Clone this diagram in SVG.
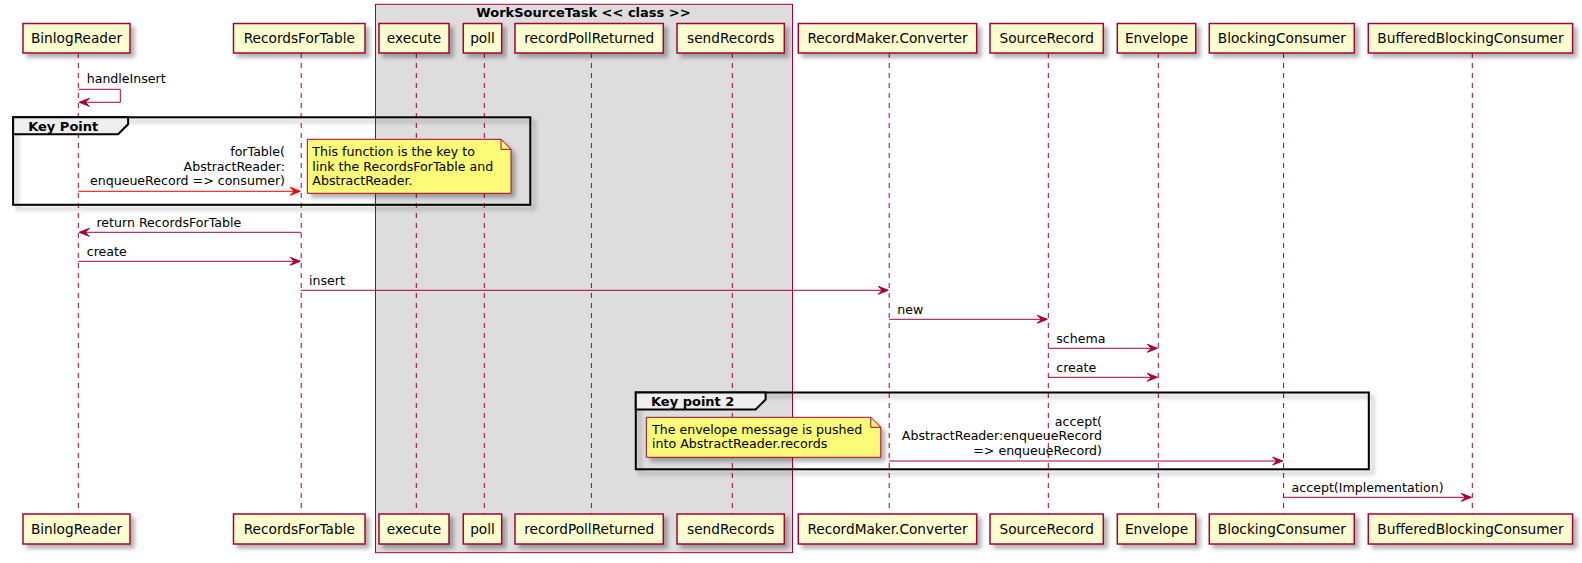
<svg xmlns="http://www.w3.org/2000/svg" width="1582" height="563" viewBox="0 0 1582 563">
<defs>
<filter id="sh" x="-5%" y="-10%" width="120%" height="140%">
<feDropShadow dx="4" dy="4" stdDeviation="2" flood-color="#000" flood-opacity="0.3"/>
</filter>
<marker id="ah" viewBox="-11 -5 12 10" refX="0" refY="0" markerWidth="12" markerHeight="10" markerUnits="userSpaceOnUse" orient="auto">
<path d="M-10,-4 L0,0 L-10,4 L-6,0 Z" fill="#A80036" stroke="#A80036" stroke-width="1"/>
</marker>
<marker id="ahr" viewBox="-11 -5 12 10" refX="0" refY="0" markerWidth="12" markerHeight="10" markerUnits="userSpaceOnUse" orient="auto">
<path d="M-10,-4 L0,0 L-10,4 L-6,0 Z" fill="#FF0000" stroke="#FF0000" stroke-width="1"/>
</marker>
</defs>
<style>
.p{fill:#FEFECE;stroke:#A80036;stroke-width:1.5;filter:url(#sh)}
.pt{font-family:"DejaVu Sans",sans-serif;font-size:13.7px;fill:#000;text-anchor:middle}
.ll{stroke:#A80036;stroke-width:1;stroke-dasharray:5,5;fill:none}
.m{stroke:#A80036;stroke-width:1;fill:none;marker-end:url(#ah)}
.mr{stroke:#FF0000;stroke-width:1;fill:none;marker-end:url(#ahr)}
.mt{font-family:"DejaVu Sans",sans-serif;font-size:12.6px;fill:#000}
.e{text-anchor:end}
.g{fill:none;stroke:#000;stroke-width:2;filter:url(#sh)}
.gt{fill:#EEEEEE;stroke:#000;stroke-width:2}
.gl{font-family:"DejaVu Sans",sans-serif;font-size:13px;font-weight:bold;fill:#000}
.n{fill:#FBFB77;stroke:#A80036;stroke-width:1;filter:url(#sh)}
.nf{fill:none;stroke:#A80036;stroke-width:1}
.box{fill:#DDDDDD;stroke:#A80036;stroke-width:1}
</style>
<rect width="1582" height="563" fill="#FFFFFF"/>
<g id="WorkSourceTask">
<rect class="box" x="375.5" y="4.3" width="417" height="548.4"/>
<text class="gl" x="583.5" y="16.5" text-anchor="middle">WorkSourceTask &lt;&lt; class &gt;&gt;</text>
</g>
<g id="BinlogReader">
<line class="ll" x1="78.3" y1="53" x2="78.3" y2="514"/>
<rect class="p" x="23" y="23.5" width="107" height="29.5"/>
<text class="pt" x="76.5" y="43.3">BinlogReader</text>
<rect class="p" x="23" y="514" width="107" height="30"/>
<text class="pt" x="76.5" y="534">BinlogReader</text>
</g>
<g id="RecordsForTable">
<line class="ll" x1="301.2" y1="53" x2="301.2" y2="514"/>
<rect class="p" x="233.5" y="23.5" width="131.5" height="29.5"/>
<text class="pt" x="299.3" y="43.3">RecordsForTable</text>
<rect class="p" x="233.5" y="514" width="131.5" height="30"/>
<text class="pt" x="299.3" y="534">RecordsForTable</text>
</g>
<g id="execute">
<line class="ll" x1="416.3" y1="53" x2="416.3" y2="514"/>
<rect class="p" x="379" y="23.5" width="70" height="29.5"/>
<text class="pt" x="414" y="43.3">execute</text>
<rect class="p" x="379" y="514" width="70" height="30"/>
<text class="pt" x="414" y="534">execute</text>
</g>
<g id="poll">
<line class="ll" x1="484.3" y1="53" x2="484.3" y2="514"/>
<rect class="p" x="463.3" y="23.5" width="38.4" height="29.5"/>
<text class="pt" x="482.5" y="43.3">poll</text>
<rect class="p" x="463.3" y="514" width="38.4" height="30"/>
<text class="pt" x="482.5" y="534">poll</text>
</g>
<g id="recordPollReturned">
<line class="ll" x1="591.4" y1="53" x2="591.4" y2="514"/>
<rect class="p" x="515" y="23.5" width="148.3" height="29.5"/>
<text class="pt" x="589.2" y="43.3">recordPollReturned</text>
<rect class="p" x="515" y="514" width="148.3" height="30"/>
<text class="pt" x="589.2" y="534">recordPollReturned</text>
</g>
<g id="sendRecords">
<line class="ll" x1="732.3" y1="53" x2="732.3" y2="514"/>
<rect class="p" x="677" y="23.5" width="107.3" height="29.5"/>
<text class="pt" x="730.7" y="43.3">sendRecords</text>
<rect class="p" x="677" y="514" width="107.3" height="30"/>
<text class="pt" x="730.7" y="534">sendRecords</text>
</g>
<g id="RecordMakerConverter">
<line class="ll" x1="889.2" y1="53" x2="889.2" y2="514"/>
<rect class="p" x="798.3" y="23.5" width="178.4" height="29.5"/>
<text class="pt" x="887.5" y="43.3">RecordMaker.Converter</text>
<rect class="p" x="798.3" y="514" width="178.4" height="30"/>
<text class="pt" x="887.5" y="534">RecordMaker.Converter</text>
</g>
<g id="SourceRecord">
<line class="ll" x1="1048.3" y1="53" x2="1048.3" y2="514"/>
<rect class="p" x="990" y="23.5" width="113.3" height="29.5"/>
<text class="pt" x="1046.7" y="43.3">SourceRecord</text>
<rect class="p" x="990" y="514" width="113.3" height="30"/>
<text class="pt" x="1046.7" y="534">SourceRecord</text>
</g>
<g id="Envelope">
<line class="ll" x1="1158.3" y1="53" x2="1158.3" y2="514"/>
<rect class="p" x="1117.3" y="23.5" width="78.4" height="29.5"/>
<text class="pt" x="1156.5" y="43.3">Envelope</text>
<rect class="p" x="1117.3" y="514" width="78.4" height="30"/>
<text class="pt" x="1156.5" y="534">Envelope</text>
</g>
<g id="BlockingConsumer">
<line class="ll" x1="1283.6" y1="53" x2="1283.6" y2="514"/>
<rect class="p" x="1209.3" y="23.5" width="145" height="29.5"/>
<text class="pt" x="1281.8" y="43.3">BlockingConsumer</text>
<rect class="p" x="1209.3" y="514" width="145" height="30"/>
<text class="pt" x="1281.8" y="534">BlockingConsumer</text>
</g>
<g id="BufferedBlockingConsumer">
<line class="ll" x1="1472.3" y1="53" x2="1472.3" y2="514"/>
<rect class="p" x="1368.3" y="23.5" width="204.3" height="29.5"/>
<text class="pt" x="1470.5" y="43.3">BufferedBlockingConsumer</text>
<rect class="p" x="1368.3" y="514" width="204.3" height="30"/>
<text class="pt" x="1470.5" y="534">BufferedBlockingConsumer</text>
</g>
<g id="group-key-point">
<rect class="g" x="13.1" y="117.3" width="517.2" height="87.5"/>
<path class="gt" d="M13.1,117.3 H128.1 V124.3 L118.1,134.3 H13.1 Z"/>
<text class="gl" x="28.2" y="130.5">Key Point</text>
</g>
<g id="group-key-point-2">
<rect class="g" x="635.8" y="392.5" width="733" height="76.8"/>
<path class="gt" d="M635.8,392.5 H765.6 V399.5 L755.6,409.5 H635.8 Z"/>
<text class="gl" x="651" y="405.7">Key point 2</text>
</g>
<g id="note-1">
<path class="n" d="M307.3,139.3 H501 L511,149.3 V193.3 H307.3 Z"/>
<path class="nf" d="M501,139.3 V149.3 H511"/>
<text class="mt" x="312.3" y="156.3">This function is the key to</text>
<text class="mt" x="312.3" y="170.8">link the RecordsForTable and</text>
<text class="mt" x="312.3" y="185.3">AbstractReader.</text>
</g>
<g id="note-2">
<path class="n" d="M646.3,417.3 H870.8 L880.8,427.3 V457.3 H646.3 Z"/>
<path class="nf" d="M870.8,417.3 V427.3 H880.8"/>
<text class="mt" x="652" y="433.8">The envelope message is pushed</text>
<text class="mt" x="652" y="448.3">into AbstractReader.records</text>
</g>
<g id="connectors">
<path class="m" d="M78.3,89.3 H120.3 V102.3 H79.3"/>
<text class="mt" x="86.7" y="83.3">handleInsert</text>
<line class="mr" x1="78.3" y1="191.3" x2="300.2" y2="191.3"/>
<text class="mt e" x="285" y="156.3">forTable(</text>
<text class="mt e" x="285" y="170.8">AbstractReader:</text>
<text class="mt e" x="285" y="185.3">enqueueRecord =&gt; consumer)</text>
<line class="m" x1="301.2" y1="232.3" x2="79.3" y2="232.3"/>
<text class="mt" x="96.4" y="226.7">return RecordsForTable</text>
<line class="m" x1="78.3" y1="261.3" x2="300.2" y2="261.3"/>
<text class="mt" x="86.8" y="255.5">create</text>
<line class="m" x1="301.2" y1="290.3" x2="888.2" y2="290.3"/>
<text class="mt" x="309" y="284.5">insert</text>
<line class="m" x1="889.2" y1="319.3" x2="1047.3" y2="319.3"/>
<text class="mt" x="897.2" y="313.5">new</text>
<line class="m" x1="1048.3" y1="348.3" x2="1157.3" y2="348.3"/>
<text class="mt" x="1056.3" y="342.5">schema</text>
<line class="m" x1="1048.3" y1="377.3" x2="1157.3" y2="377.3"/>
<text class="mt" x="1056.3" y="371.5">create</text>
<line class="m" x1="889.2" y1="461" x2="1282.6" y2="461"/>
<text class="mt e" x="1102" y="425.9">accept(</text>
<text class="mt e" x="1102" y="440.4">AbstractReader:enqueueRecord</text>
<text class="mt e" x="1102" y="454.9">=&gt; enqueueRecord)</text>
<line class="m" x1="1283.6" y1="497.3" x2="1471.3" y2="497.3"/>
<text class="mt" x="1291.6" y="491.5">accept(Implementation)</text>
</g>
</svg>
